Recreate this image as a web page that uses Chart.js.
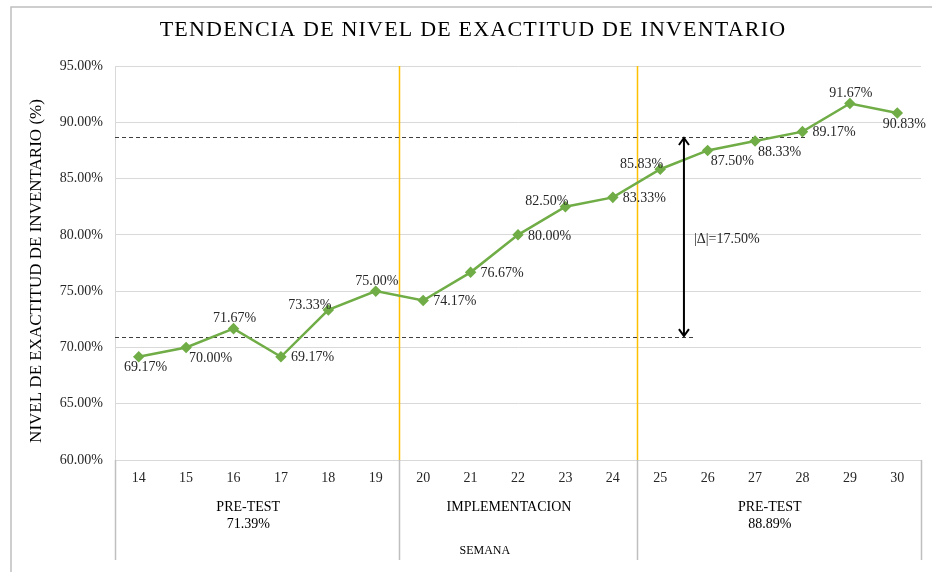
<!DOCTYPE html>
<html lang="es">
<head>
    <meta charset="UTF-8">
    <script src="https://cdn.jsdelivr.net/npm/chart.js"></script>
    <style>
        body { margin: 0; background: #fff; }
        #wrap { width: 932px; height: 572px; }
    </style>
    <title>Exactitud de inventario</title>
</head>
<body>
    <div id="wrap"><canvas id="grafico" width="932" height="572"></canvas></div>
<script>
    // semanas y nivel de exactitud (%)
    var semanas = ['14','15','16','17','18','19','20','21','22','23','24','25','26','27','28','29','30'];
    var exactitud = [69.17, 70.00, 71.67, 69.17, 73.33, 75.00, 74.17, 76.67, 80.00, 82.50, 83.33, 85.83, 87.50, 88.33, 89.17, 91.67, 90.83];

    // etapas (indice inicial, indice final exclusivo)
    var etapas = ['PRE-TEST', 'IMPLEMENTACION', 'PRE-TEST'];
    var etapaPromedio = ['71.39%', '', '88.89%'];
    var etapaDesde = [0, 6, 11];
    var etapaHasta = [6, 11, 17];

    // niveles de las lineas punteadas y la diferencia
    var nivelAntes = 70.92;
    var nivelDespues = 88.69;
    var deltaTexto = '|\u0394|=17.50%';

    // donde va cada etiqueta respecto al punto
    var posEtiqueta = ['b','br','t','r','al','t','r','r','r','al','r','al','br','br','r','t','b'];

    var serif = "'Liberation Serif', 'Times New Roman', serif";
    var doc = document;

    function xAt(chart, i) {
        let a = chart.chartArea;
        let step = (a.right - a.left) / semanas.length;
        return a.left + step * i;
    }

    const decor = {
        id: 'decor',
        beforeDraw(chart) {
            let ctx = chart.ctx;
            ctx.save();
            ctx.fillStyle = '#fff';
            ctx.fillRect(0, 0, chart.width, chart.height);
            // marco
            ctx.strokeStyle = '#bfbfbf';
            ctx.lineWidth = 1.5;
            ctx.beginPath();
            ctx.moveTo(11, chart.height);
            ctx.lineTo(11, 7);
            ctx.lineTo(chart.width, 7);
            ctx.stroke();
            // titulo
            ctx.fillStyle = '#000';
            ctx.font = '22px ' + serif;
            ctx.letterSpacing = '1.2px';
            ctx.textAlign = 'center';
            ctx.textBaseline = 'middle';
            ctx.fillText('TENDENCIA DE NIVEL DE EXACTITUD DE INVENTARIO', 473, 30);
            ctx.letterSpacing = '0px';
            // titulo eje y
            ctx.translate(37, 271);
            ctx.rotate(-Math.PI / 2);
            ctx.font = '17px ' + serif;
            ctx.fillStyle = '#000';
            ctx.fillText('NIVEL DE EXACTITUD DE INVENTARIO (%)', 0, 0);
            ctx.restore();
        },
        beforeDatasetsDraw(chart) {
            let ctx = chart.ctx;
            let a = chart.chartArea;
            let y = chart.scales.y;
            ctx.save();
            // separadores de etapa
            for (let k = 1; k < etapas.length; k++) {
                let x = Math.round(xAt(chart, etapaDesde[k])) + 0.5;
                ctx.strokeStyle = '#FFC000';
                ctx.lineWidth = 1.5;
                ctx.beginPath();
                ctx.moveTo(x, a.top);
                ctx.lineTo(x, a.bottom);
                ctx.stroke();
            }
            // lineas punteadas
            ctx.strokeStyle = '#404040';
            ctx.lineWidth = 1;
            ctx.setLineDash([4, 3]);
            let y1 = Math.round(y.getPixelForValue(nivelAntes)) + 0.5;
            let y2 = Math.round(y.getPixelForValue(nivelDespues)) + 0.5;
            ctx.beginPath();
            ctx.moveTo(a.left, y1);
            ctx.lineTo(xAt(chart, 12.2), y1);
            ctx.moveTo(a.left, y2);
            ctx.lineTo(xAt(chart, 14.6), y2);
            ctx.stroke();
            ctx.setLineDash([]);
            ctx.restore();
        },
        afterDraw(chart) {
            let ctx = chart.ctx;
            let a = chart.chartArea;
            let y = chart.scales.y;
            ctx.save();
            // lineas bajo el eje
            ctx.strokeStyle = '#bfbfbf';
            ctx.lineWidth = 1.5;
            let cortes = [0, 6, 11, 17];
            for (let c of cortes) {
                let x = Math.round(xAt(chart, c)) + 0.5;
                ctx.beginPath();
                ctx.moveTo(x, a.bottom);
                ctx.lineTo(x, a.bottom + 100);
                ctx.stroke();
            }
            // etiquetas de etapa
            ctx.fillStyle = '#000';
            ctx.font = '14px ' + serif;
            ctx.textAlign = 'center';
            ctx.textBaseline = 'middle';
            for (let k = 0; k < etapas.length; k++) {
                let cx = (xAt(chart, etapaDesde[k]) + xAt(chart, etapaHasta[k])) / 2 - 9;
                ctx.fillText(etapas[k], cx, a.bottom + 47);
                if (etapaPromedio[k]) ctx.fillText(etapaPromedio[k], cx, a.bottom + 64);
            }
            ctx.font = '12px ' + serif;
            ctx.fillText('SEMANA', xAt(chart, 7.8), a.bottom + 91);

            // flecha doble
            let ax = xAt(chart, 12);
            let ya = y.getPixelForValue(nivelDespues);
            let yb = y.getPixelForValue(nivelAntes);
            ctx.strokeStyle = '#000';
            ctx.lineWidth = 2;
            ctx.beginPath();
            ctx.moveTo(ax, ya + 1);
            ctx.lineTo(ax, yb - 1);
            ctx.moveTo(ax - 5, ya + 8);
            ctx.lineTo(ax, ya + 1);
            ctx.lineTo(ax + 5, ya + 8);
            ctx.moveTo(ax - 5, yb - 8);
            ctx.lineTo(ax, yb - 1);
            ctx.lineTo(ax + 5, yb - 8);
            ctx.stroke();
            ctx.font = '14px ' + serif;
            ctx.textAlign = 'left';
            ctx.fillStyle = '#262626';
            ctx.fillText(deltaTexto, ax + 10, (ya + yb) / 2 + 2);

            // etiquetas de datos
            let meta = chart.getDatasetMeta(0);
            ctx.font = '14px ' + serif;
            ctx.fillStyle = '#262626';
            meta.data.forEach(function(pt, i) {
                let t = exactitud[i].toFixed(2) + '%';
                let p = posEtiqueta[i];
                let px = pt.x, py = pt.y;
                if (p === 't') { ctx.textAlign = 'center'; ctx.fillText(t, px + 1, py - 10); }
                else if (p === 'b') { ctx.textAlign = 'center'; ctx.fillText(t, px + 7, py + 11); }
                else if (p === 'r') { ctx.textAlign = 'left'; ctx.fillText(t, px + 10, py + 1); }
                else if (p === 'br') { ctx.textAlign = 'left'; ctx.fillText(t, px + 3, py + 11); }
                else if (p === 'al') { ctx.textAlign = 'right'; ctx.fillText(t, px + 3, py - 5); }
            });
            ctx.restore();
        }
    };

    const ctx = doc.getElementById('grafico');

    var chart = new Chart(ctx, {
        type: 'line',
        data: {
            labels: semanas,
            datasets: [{
                data: exactitud,
                borderColor: '#70AD47',
                backgroundColor: '#70AD47',
                borderWidth: 2.5,
                pointStyle: 'rectRot',
                pointRadius: 4,
                pointHoverRadius: 4,
                tension: 0
            }]
        },
        options: {
            responsive: false,
            animation: false,
            layout: { padding: { top: 66, right: 11, left: 0, bottom: 0 } },
            plugins: {
                legend: { display: false },
                tooltip: { enabled: false }
            },
            scales: {
                x: {
                    offset: true,
                    grid: { display: false, drawTicks: false },
                    border: { color: '#d9d9d9' },
                    ticks: { color: '#262626', padding: 10, font: { family: serif, size: 14 } },
                    afterFit(scale) { scale.height = 112; }
                },
                y: {
                    min: 60,
                    max: 95,
                    grid: { color: '#d9d9d9', drawTicks: false },
                    border: { color: '#d9d9d9' },
                    ticks: {
                        stepSize: 5,
                        padding: 12,
                        color: '#262626',
                        font: { family: serif, size: 14 },
                        callback: function(v) { return v.toFixed(2) + '%'; }
                    },
                    afterFit(scale) { scale.width = 115; }
                }
            }
        },
        plugins: [decor]
    });
</script>
</body>
</html>
